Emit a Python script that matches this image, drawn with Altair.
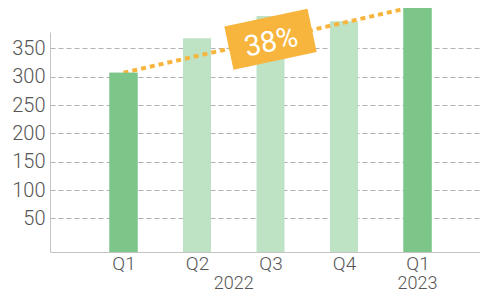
import altair as alt
import pandas as pd

# ---- data ----
quarters = ["Q1", "Q2", "Q3", "Q4", "Q1"]
years = ["2022", "2022", "2022", "2022", "2023"]
values = [307, 368, 407, 398, 425]
highlight = [True, False, False, False, True]
y_ticks = [50, 100, 150, 200, 250, 300, 350]

W, H = 430, 220
YMIN, YMAX = -9.4, 378.9
DARK, LIGHT, ORANGE = "#7dc68a", "#bee2c4", "#f7b53d"
FONT = "Roboto"

idx = list(range(1, len(quarters) + 1))
df = pd.DataFrame({"i": idx, "q": quarters, "year": years, "v": values, "hl": highlight})
df["base"] = YMIN  # bars start at the bottom of the value axis

first, last = df.iloc[0], df.iloc[-1]
trend = pd.DataFrame({"i": [first.i, last.i], "v": [first.v, last.v]})
growth = round((last.v / first.v - 1) * 100)
badge = pd.DataFrame({"i": [trend.i.mean()], "v": [trend.v.mean()], "t": [f"{growth}%"]})
year_lab = df.groupby("year", as_index=False)["i"].mean()

label_expr = "[" + ",".join(["''"] + [f"'{q}'" for q in quarters]) + "][datum.value]"

xs = alt.Scale(domain=[0, 5.85], nice=False, zero=False, padding=0)
ys = alt.Scale(domain=[YMIN, YMAX], nice=False, zero=False, padding=0)

x_axis = alt.Axis(values=idx, tickCount=20, labelExpr=label_expr, grid=False, ticks=False,
                  domainColor="#c4c4c4", labelFont=FONT, labelFontWeight=300,
                  labelFontSize=19, labelColor="#555555", labelPadding=2, title=None,
                  labelOverlap=False)
y_axis = alt.Axis(values=y_ticks, tickCount=20, grid=True, gridDash=[5, 3], gridColor="#b0b0b0",
                  ticks=False, domainColor="#c4c4c4", labelFont=FONT, labelFontWeight=300,
                  labelFontSize=20, labelColor="#555555", labelPadding=5, title=None,
                  labelOverlap=False)

color = alt.Color("hl:N", scale=alt.Scale(domain=[True, False], range=[DARK, LIGHT]), legend=None)

X = alt.X("i:Q", scale=xs, axis=x_axis)
Y = alt.Y("v:Q", scale=ys, axis=y_axis, stack=None)

bars = alt.Chart(df).mark_rule(strokeWidth=28, strokeCap="butt").encode(
    x=X, y=Y, y2=alt.Y2("base:Q"), color=color
)

line = alt.Chart(trend).mark_line(color=ORANGE, strokeWidth=4, strokeDash=[5, 4]).encode(x=X, y=Y)

bars_top = alt.Chart(df).transform_filter("datum.hl").mark_rule(strokeWidth=28, strokeCap="butt").encode(
    x=X, y=Y, y2=alt.Y2("base:Q"), color=color
)

box = alt.Chart(badge).mark_point(
    shape="M-1,-0.52L1,-0.52L1,0.52L-1,0.52Z", filled=True, opacity=1,
    color=ORANGE, size=85 * 85, angle=348, strokeWidth=0
).encode(x=X, y=Y)

btext = alt.Chart(badge).mark_text(
    color="white", font=FONT, fontSize=29, angle=348, baseline="middle", align="center", dy=3
).encode(x=X, y=Y, text="t:N")

ytext = alt.Chart(year_lab).mark_text(
    font=FONT, fontWeight=300, fontSize=18, color="#555555", baseline="middle", align="center"
).encode(x=X, y=alt.value(H + 32), text="year:N")

chart = alt.layer(bars, line, bars_top, box, btext, ytext).properties(
    width=W, height=H,
    autosize=alt.AutoSizeParams(type="none"),
    padding={"left": 42, "top": 24, "right": 0, "bottom": 41},
).configure_view(stroke=None)

chart.save("out.html", embed_options={"renderer": "svg", "actions": False})
